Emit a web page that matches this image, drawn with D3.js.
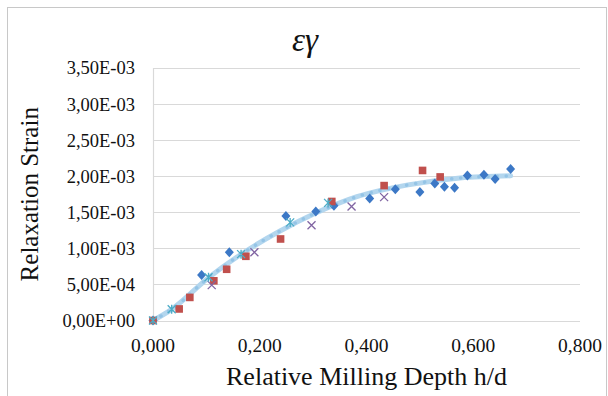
<!DOCTYPE html>
<html>
<head>
<meta charset="utf-8">
<script src="https://cdn.jsdelivr.net/npm/d3@7"></script>
<style>
  body { margin: 0; background: #fff; }
</style>
</head>
<body>
<svg id="chart" width="608" height="396"></svg>
<script>
// series: [relative depth h/d, strain]
const blueDiamonds = [
  [0.000, 0.00000], [0.091, 0.00063], [0.143, 0.000945], [0.249, 0.00145], [0.305, 0.00151],
  [0.339, 0.00159], [0.406, 0.00169], [0.454, 0.00182], [0.500, 0.00178], [0.528, 0.00190],
  [0.546, 0.001855], [0.565, 0.00184], [0.589, 0.00201], [0.620, 0.00202], [0.641, 0.00196],
  [0.670, 0.00210]
];
const redSquares = [
  [0.000, 0.00000], [0.049, 0.00016], [0.069, 0.00032], [0.114, 0.00055], [0.138, 0.00071],
  [0.174, 0.00089], [0.239, 0.00113], [0.335, 0.00165], [0.433, 0.00187], [0.505, 0.00208],
  [0.538, 0.00199]
];
const purpleCrosses = [
  [0.110, 0.00049], [0.190, 0.000945], [0.297, 0.00132], [0.372, 0.00158], [0.433, 0.00171]
];
const cyanStars = [
  [0.000, 0.00000], [0.035, 0.000155], [0.104, 0.00060], [0.165, 0.00092], [0.257, 0.00136],
  [0.328, 0.00163]
];
// trend line, points
const trend = [
  [0.000, 0.0], [0.035, 0.000155], [0.104, 0.000593], [0.165, 0.000918], [0.238, 0.00124],
  [0.304, 0.001486], [0.382, 0.001716], [0.478, 0.00188], [0.575, 0.001975], [0.670, 0.002005]
];

const xTicks = [0, 0.2, 0.4, 0.6, 0.8];
const yTicks = [0, 0.0005, 0.001, 0.0015, 0.002, 0.0025, 0.003, 0.0035];
const xTickLabels = ['0,000', '0,200', '0,400', '0,600', '0,800'];
const yTickLabels = ['0,00E+00', '5,00E-04', '1,00E-03', '1,50E-03', '2,00E-03', '2,50E-03', '3,00E-03', '3,50E-03'];

const serif = '"Liberation Serif", "DejaVu Serif", "Times New Roman", serif';

const svg = d3.select('#chart')
  .attr('font-family', serif);
const margin = { top: 68, right: 28, bottom: 75.5, left: 153 };
const width = 608, height = 396;

// outer chart frame
svg.append('rect')
  .attr('x', 7.5).attr('y', 7.5)
  .attr('width', 599).attr('height', 400)
  .attr('fill', 'none')
  .attr('stroke', '#c8c8c8');

const x = d3.scaleLinear().domain([0, 0.8]).range([margin.left, width - margin.right]);
const y = d3.scaleLinear().domain([0, 0.0035]).range([height - margin.bottom, margin.top]);

// gridlines
svg.append('g')
  .selectAll('line')
  .data(yTicks)
  .enter()
  .append('line')
  .attr('x1', x(0)).attr('x2', x(0.8))
  .attr('y1', d => Math.round(y(d)) + 0.5).attr('y2', d => Math.round(y(d)) + 0.5)
  .attr('stroke', '#d9d9d9')
  .attr('stroke-width', 1.2);

// left axis line
svg.append('line')
  .attr('x1', Math.round(x(0)) + 0.5).attr('x2', Math.round(x(0)) + 0.5)
  .attr('y1', y(0.0035)).attr('y2', y(0))
  .attr('stroke', '#d9d9d9')
  .attr('stroke-width', 1.2);

// tick labels
svg.append('g')
  .selectAll('text')
  .data(yTicks)
  .enter()
  .append('text')
  .attr('x', 135)
  .attr('y', d => y(d))
  .attr('dy', '0.35em')
  .attr('text-anchor', 'end')
  .attr('font-family', serif)
  .attr('font-size', 18.5)
  .attr('fill', '#111')
  .text((d, i) => yTickLabels[i]);

svg.append('g')
  .selectAll('text')
  .data(xTicks)
  .enter()
  .append('text')
  .attr('x', d => x(d))
  .attr('y', 352)
  .attr('text-anchor', 'middle')
  .attr('font-family', serif)
  .attr('font-size', 19.5)
  .attr('fill', '#111')
  .text((d, i) => xTickLabels[i]);

// titles
svg.append('text')
  .attr('x', (x(0) + x(0.8)) / 2)
  .attr('y', 385)
  .attr('text-anchor', 'middle')
  .attr('font-family', serif)
  .attr('font-size', 26)
  .attr('fill', '#111')
  .text('Relative Milling Depth h/d');

svg.append('text')
  .attr('transform', `translate(38,${(y(0) + y(0.0035)) / 2}) rotate(-90)`)
  .attr('text-anchor', 'middle')
  .attr('font-family', serif)
  .attr('font-size', 25)
  .attr('fill', '#111')
  .text('Relaxation Strain');

svg.append('text')
  .attr('x', 305)
  .attr('y', 51)
  .attr('text-anchor', 'middle')
  .attr('font-family', serif)
  .attr('font-size', 33)
  .attr('font-style', 'italic')
  .attr('fill', '#111')
  .text('εγ');

// trend line
const line = d3.line()
  .x(d => x(d[0]))
  .y(d => y(d[1]))
  .curve(d3.curveMonotoneX);

svg.append('path')
  .datum(trend)
  .attr('d', line)
  .attr('fill', 'none')
  .attr('stroke', '#b3d6ee')
  .attr('stroke-width', 5)
  .attr('stroke-linecap', 'round');

svg.append('path')
  .datum(trend)
  .attr('d', line)
  .attr('fill', 'none')
  .attr('stroke', '#94c4e6')
  .attr('stroke-width', 3.5)
  .attr('stroke-dasharray', '0.1 9')
  .attr('stroke-linecap', 'round');

// markers
svg.append('g')
  .selectAll('path')
  .data(blueDiamonds)
  .enter()
  .append('path')
  .attr('transform', d => `translate(${x(d[0])},${y(d[1])})`)
  .attr('d', 'M0,-5L4.5,0L0,5L-4.5,0Z')
  .attr('fill', '#3c78c6');

svg.append('g')
  .selectAll('rect')
  .data(redSquares)
  .enter()
  .append('rect')
  .attr('x', d => x(d[0]) - 3.8)
  .attr('y', d => y(d[1]) - 3.8)
  .attr('width', 7.6)
  .attr('height', 7.6)
  .attr('fill', '#c0504d');

svg.append('g')
  .selectAll('path')
  .data(purpleCrosses)
  .enter()
  .append('path')
  .attr('transform', d => `translate(${x(d[0])},${y(d[1])})`)
  .attr('d', 'M-4,-4L4,4M-4,4L4,-4')
  .attr('stroke', '#8064a2')
  .attr('stroke-width', 1.3)
  .attr('fill', 'none');

svg.append('g')
  .selectAll('path')
  .data(cyanStars)
  .enter()
  .append('path')
  .attr('transform', d => `translate(${x(d[0])},${y(d[1])})`)
  .attr('d', 'M-4,-4L4,4M-4,4L4,-4M0,-4.5L0,4.5')
  .attr('stroke', '#4bacc6')
  .attr('stroke-width', 1.3)
  .attr('fill', 'none');
</script>
</body>
</html>
